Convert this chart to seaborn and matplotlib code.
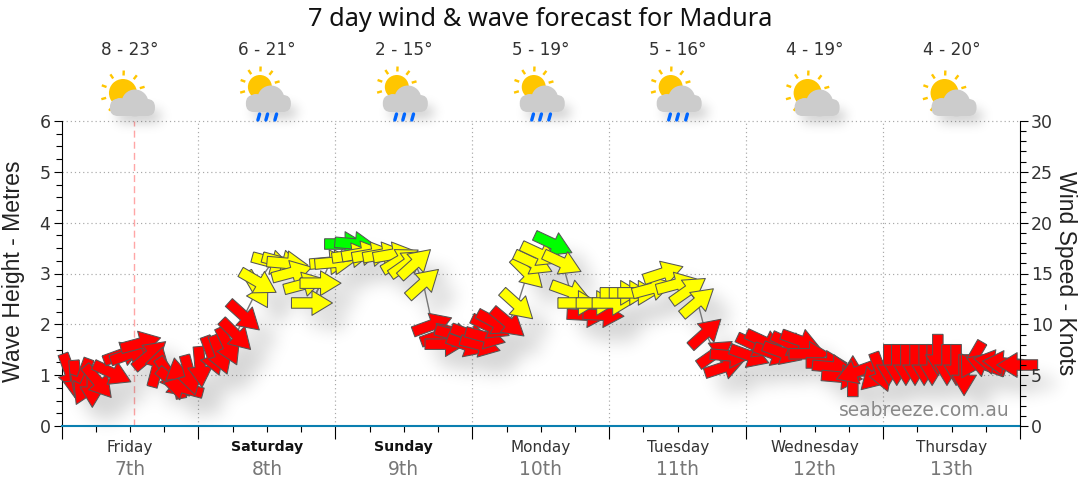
# plot.py - 7 day wind & wave forecast chart
import numpy as np
import seaborn as sns
import pandas as pd
import matplotlib.pyplot as plt
from matplotlib.patches import Circle, FancyBboxPatch, Polygon
from matplotlib.ticker import MultipleLocator

days = ["Friday", "Saturday", "Sunday", "Monday", "Tuesday", "Wednesday", "Thursday"]
dates = ["7th", "8th", "9th", "10th", "11th", "12th", "13th"]
bold_days = ["Saturday", "Sunday"]
temps = ["8 - 23°", "6 - 21°", "2 - 15°", "5 - 19°", "5 - 16°", "4 - 19°", "4 - 20°"]
rain = [False, True, True, True, True, False, False]

# hours since Friday 00:00, wave height (m), arrow heading (deg, 0 = pointing right), wind band
hours = [1.5, 2.5, 3.6, 4.1, 5.4, 6.4, 8.9, 10.8, 12.0, 13.9, 15.5, 16.8, 19.0, 19.7, 20.4, 21.3, 22.5,
         24.3, 26.4, 27.8, 29.2, 30.6, 32.0,
         34.3, 34.5, 36.9, 38.7, 39.6, 40.4, 42.5, 45.4, 43.9, 47.1, 48.0, 49.7, 51.5, 51.0, 52.7, 54.5,
         56.4, 58.2, 59.4, 60.6, 62.0, 63.4,
         65.0, 66.4, 67.3, 69.0, 71.0, 71.7, 73.4, 74.3, 75.2, 76.1, 78.3,
         79.9, 81.7, 82.7, 83.9, 86.2, 87.8, 89.2, 92.2, 95.0,
         90.6, 93.8, 96.6, 98.0, 99.6, 101.1, 103.6, 105.5, 107.8, 109.9, 111.5,
         112.9, 114.6, 116.2, 117.3, 120.6, 121.7, 123.3, 124.8, 126.4, 127.8, 129.6, 131.1, 134.1, 135.2,
         136.8, 138.7, 139.2, 142.7, 143.6, 145.0, 146.4, 148.0, 149.6, 151.2, 152.6, 153.6, 155.2, 156.8,
         158.2, 159.6, 162.0, 163.4, 165.0, 167.5]
wave_m = [1.04, 0.89, 0.94, 0.79, 0.77, 0.87, 1.04, 1.42, 1.42, 1.63, 1.40, 1.16, 1.00, 0.85, 0.94, 0.75, 1.00,
          1.16, 1.38, 1.40, 1.57, 1.79, 2.16,
          2.68, 2.83, 3.22, 3.22, 3.20, 3.02, 2.79, 2.81, 2.42, 3.22, 3.22, 3.58, 3.58, 3.36, 3.40, 3.38,
          3.38, 3.38, 3.26, 3.20, 3.20, 2.81,
          1.99, 1.79, 1.61, 1.79, 1.59, 1.79, 1.59, 1.75, 1.95, 2.03, 2.03,
          2.38, 3.01, 3.21, 3.38, 3.58, 3.21, 2.64, 2.18, 2.18,
          2.42, 2.42, 2.42, 2.62, 2.62, 2.62, 2.71, 3.01, 2.79, 2.67, 2.44,
          1.83, 1.43, 1.16, 1.38, 1.38, 1.58, 1.65, 1.42, 1.44, 1.61, 1.67, 1.42, 1.24, 1.16,
          0.96, 0.98, 1.06, 1.00, 1.06, 1.20, 1.20, 1.20, 1.20, 1.20, 1.20, 1.40, 1.20, 1.20,
          1.00, 1.30, 1.20, 1.26, 1.24, 1.20]
heading = [-70, -85, -110, -115, -90, -50, -25, 20, 20, 15, 40, 75, -55, -40, 100, 165, -75,
           -85, -70, -70, -65, -45, -42,
           -60, -30, -15, -15, -5, 15, 15, 0, 0, 5, 5, 0, -5, 8, 10, 10,
           10, 10, 30, 35, 42, 42,
           20, 20, 0, -15, -20, -20, -15, -15, -25, -28, -40,
           -42, -45, -25, -25, -25, -25, -20, -3, -3,
           0, 0, 0, 0, 0, 0, 15, 18, 15, 35, 40,
           42, 35, 18, -5, -20, -25, -25, -20, -20, -25, -20, 0, 0, -5,
           -5, 90, -160, -135, -70, -90, -90, -90, -90, -90, -90, -90, -90, -90,
           -90, -120, 160, 170, 175, 180]
wind_band = ["calm"] * 23 + ["fresh"] * 11 + ["strong"] * 2 + ["fresh"] * 9 + ["calm"] * 11 \
    + ["fresh"] * 4 + ["strong"] + ["fresh"] * 2 + ["calm"] * 2 + ["fresh"] * 11 + ["calm"] * 34
band_colors = {"calm": "#ff0000", "fresh": "#ffff00", "strong": "#00ff00"}


def soft_shadow(img, dpi, pad=36, sigma=5.0, dx=6, dy=6, strength=0.55):
    # blurred drop shadow for the arrows and clouds
    out = np.pad(img, ((pad, pad), (pad, pad), (0, 0)))
    radius = int(3 * sigma)
    kernel = np.exp(-0.5 * (np.arange(-radius, radius + 1) / sigma) ** 2)
    kernel /= kernel.sum()
    alpha = out[..., 3]
    alpha = np.apply_along_axis(lambda r: np.convolve(r, kernel, mode="same"), 0, alpha)
    alpha = np.apply_along_axis(lambda r: np.convolve(r, kernel, mode="same"), 1, alpha)
    shadow = np.zeros_like(out)
    shadow[..., 3] = alpha * strength
    return shadow, dx - pad, -dy - pad


sns.set_style("white")
plt.rcParams["font.family"] = "DejaVu Sans"

fig = plt.figure(figsize=(10.8, 4.9), dpi=100)
ax = fig.add_axes([61.5 / 1080, 64 / 490, 958.5 / 1080, 305 / 490])
ax.set_xlim(0, 168)
ax.set_ylim(0, 6)

df = pd.DataFrame({"hour": hours, "wave": wave_m, "heading": heading, "band": wind_band})

# grid and "now" marker
ax.set_axisbelow(True)
for y in range(1, 7):
    ax.axhline(y, color="#a8a8a8", lw=0.85, ls=(0, (1, 2.5)), zorder=0, clip_on=False)
for x in range(24, 168, 24):
    ax.axvline(x, color="#a8a8a8", lw=0.85, ls=(0, (1, 2.5)), zorder=0)
ax.axvline(12.7, color="#ffa6a6", lw=1, ls=(0, (5, 3)), zorder=0)

# arrows drawn at fixed pixel size, later ones on top
u = 41 * np.cos(np.radians(df["heading"]))
v = 41 * np.sin(np.radians(df["heading"]))
arrow_kw = dict(angles="uv", scale_units="dots", scale=1, units="dots", width=10.5, headwidth=2.35,
                headlength=1.95, headaxislength=1.95, pivot="mid", clip_on=False)

shadow = ax.quiver(df["hour"], df["wave"], u, v, color="black", linewidth=0, zorder=1, **arrow_kw)
shadow.set_agg_filter(soft_shadow)

sns.lineplot(data=df, x="hour", y="wave", sort=False, estimator=None, color="#777777", lw=1, ax=ax, zorder=2)

ax.quiver(df["hour"], df["wave"], u, v, facecolor=df["band"].map(band_colors).tolist(), edgecolor="#555555",
          linewidth=0.75, zorder=3, **arrow_kw)

# axes
ax.set_xlabel("")
ax.set_ylabel("")
ax.xaxis.set_major_locator(MultipleLocator(24))
ax.xaxis.set_minor_locator(MultipleLocator(6))
ax.yaxis.set_major_locator(MultipleLocator(1))
ax.yaxis.set_minor_locator(MultipleLocator(0.25))
ax.set_xticklabels([])
ax.tick_params(axis="x", which="major", length=9, width=0.8, color="black", bottom=True)
ax.tick_params(axis="x", which="minor", length=4, width=0.8, color="black", bottom=True)
ax.tick_params(axis="y", which="major", length=6, width=0.8, color="black", left=True,
               labelsize=12.5, labelcolor="#333333", pad=2)
ax.tick_params(axis="y", which="minor", length=4, width=0.8, color="black", left=True)

ax.spines["top"].set_visible(False)
ax.spines["right"].set_visible(False)
ax.spines["left"].set_color("black")
ax.spines["bottom"].set_color("#0a7fb0")
ax.spines["bottom"].set_linewidth(1.5)

ax2 = ax.twinx()
ax2.set_ylim(0, 30)
ax2.yaxis.set_major_locator(MultipleLocator(5))
ax2.yaxis.set_minor_locator(MultipleLocator(1))
ax2.tick_params(axis="y", which="major", length=6, width=0.8, color="black", right=True,
                labelsize=12.5, labelcolor="#333333", pad=2)
ax2.tick_params(axis="y", which="minor", length=4, width=0.8, color="black", right=True)
for name in ["top", "left", "bottom"]:
    ax2.spines[name].set_visible(False)
ax2.spines["right"].set_color("black")

fig.text(14 / 1080, 1 - 271 / 490, "Wave Height - Metres", rotation=90, ha="center", va="center", fontsize=16.6,
         family="Liberation Sans", color="#222222")
fig.text(1066 / 1080, 1 - 273 / 490, "Wind Speed - Knots", rotation=270, ha="center", va="center", fontsize=16.6,
         family="Liberation Sans", color="#222222")

# day labels, temperatures
trans = ax.get_xaxis_transform()
for i, day in enumerate(days):
    mid = 12 + 24 * i
    bold = day in bold_days
    ax.text(mid, -0.069, day, transform=trans, ha="center", va="center", fontsize=10.2 if bold else 11,
            color="#111111" if bold else "#333333", fontweight="bold" if bold else "normal")
    ax.text(mid, -0.141, dates[i], transform=trans, ha="center", va="center", fontsize=13.5, color="#777777")
    ax.text(mid, 1.233, temps[i], transform=trans, ha="center", va="center", fontsize=12.2, color="#333333")

ax.text(0.9895, 0.05, "seabreeze.com.au", transform=ax.transAxes, ha="right", va="center", fontsize=13.4,
        color="#888888", zorder=4)
fig.text(0.5, 1 - 20 / 490, "7 day wind & wave forecast for Madura", ha="center", va="center", fontsize=18.2,
         family="Noto Sans", color="#111111")

# weather icons on an overlay in pixel coordinates
over = fig.add_axes([0, 0, 1, 1], zorder=5)
over.set_xlim(0, 1080)
over.set_ylim(490, 0)
over.axis("off")


def draw_icon(cx, wet):
    # cx is the centre of the day column; rainy icons sit a little higher
    top = -4 if wet else 0
    shift = -1 if wet else 0
    sun_x, sun_y = cx - 7, 93 + top - (2 if wet else 0)
    r = 12 if wet else 14
    for a in np.radians(np.arange(-30, 230, 36) + 10):
        ca, sa = np.cos(a), np.sin(a)
        mid_x, mid_y = sun_x + (r + 6) * ca, sun_y - (r + 6) * sa
        over.add_patch(Polygon([[mid_x - 2.5 * ca + 1.2 * sa, mid_y + 2.5 * sa + 1.2 * ca],
                                [mid_x + 2.5 * ca + 1.2 * sa, mid_y - 2.5 * sa + 1.2 * ca],
                                [mid_x + 2.5 * ca - 1.2 * sa, mid_y - 2.5 * sa - 1.2 * ca],
                                [mid_x - 2.5 * ca - 1.2 * sa, mid_y + 2.5 * sa - 1.2 * ca]],
                               color="#ffc600", lw=0))
    over.add_patch(Circle((sun_x, sun_y), r, color="#ffc600", lw=0))
    base = 116 + top
    blur = FancyBboxPatch((cx - 17 + shift, base - 15), 44, 12, boxstyle="round,pad=0,rounding_size=6",
                          color="black", lw=0)
    blur.set_agg_filter(lambda img, dpi: soft_shadow(img, dpi, sigma=6, dx=4, dy=9, strength=0.22))
    over.add_patch(blur)
    if wet:
        for dx in (-8, 0, 9):
            over.plot([cx + dx + 0.7, cx + dx - 1], [base + 2, base + 8], color="#0066ff", lw=2.4,
                      solid_capstyle="round")
    grey = "#cccccc"
    over.add_patch(FancyBboxPatch((cx - 20 + shift, base - 17), 45, 17, boxstyle="round,pad=0,rounding_size=8",
                                  color=grey, lw=0))
    over.add_patch(Circle((cx + 5 + shift, base - 13), 13.5, color=grey, lw=0))
    over.add_patch(Circle((cx - 10 + shift, base - 9), 9, color=grey, lw=0))


for i in range(7):
    draw_icon(61.5 + 136.93 * (i + 0.5), rain[i])

plt.savefig("out.png", dpi=100, bbox_inches=None, pad_inches=0)
plt.close()
